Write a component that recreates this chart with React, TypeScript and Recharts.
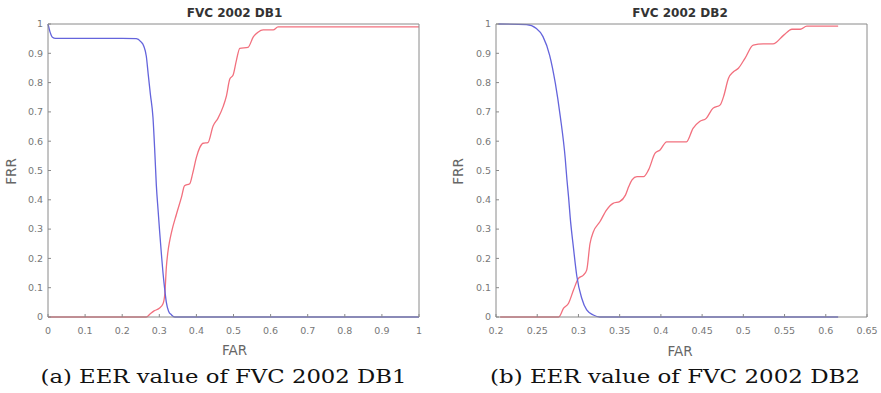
import React from 'react';
import { LineChart, Line, XAxis, YAxis } from 'recharts';

// ---- FVC 2002 DB1 ----
const db1BlueFar = [0, 0.005, 0.012, 0.02, 0.1, 0.2, 0.238, 0.25, 0.258, 0.265, 0.27, 0.276, 0.283, 0.288, 0.292, 0.297, 0.301, 0.306, 0.31, 0.315, 0.319, 0.325, 0.333, 0.342, 1];
const db1BlueFrr = [1, 0.975, 0.955, 0.951, 0.951, 0.951, 0.95, 0.94, 0.925, 0.89, 0.83, 0.76, 0.68, 0.56, 0.45, 0.36, 0.29, 0.21, 0.15, 0.09, 0.05, 0.02, 0.007, 0, 0];
const db1RedFar = [0, 0.265, 0.275, 0.285, 0.3, 0.31, 0.315, 0.319, 0.323, 0.328, 0.333, 0.346, 0.36, 0.368, 0.382, 0.39, 0.4, 0.409, 0.418, 0.431, 0.445, 0.458, 0.472, 0.481, 0.49, 0.499, 0.508, 0.517, 0.539, 0.553, 0.566, 0.58, 0.607, 0.62, 1];
const db1RedFrr = [0, 0, 0.01, 0.02, 0.03, 0.045, 0.08, 0.17, 0.22, 0.26, 0.29, 0.35, 0.41, 0.448, 0.455, 0.49, 0.545, 0.578, 0.593, 0.595, 0.652, 0.678, 0.718, 0.755, 0.812, 0.826, 0.877, 0.917, 0.92, 0.955, 0.972, 0.98, 0.98, 0.99, 0.99];

// ---- FVC 2002 DB2 ----
const db2BlueFar = [0.203, 0.237, 0.249, 0.257, 0.265, 0.272, 0.278, 0.284, 0.286, 0.288, 0.29, 0.294, 0.298, 0.304, 0.31, 0.318, 0.326, 0.615];
const db2BlueFrr = [1, 0.998, 0.985, 0.957, 0.894, 0.797, 0.684, 0.54, 0.47, 0.41, 0.34, 0.235, 0.14, 0.064, 0.024, 0.007, 0, 0];
const db2RedFar = [0.205, 0.276, 0.282, 0.288, 0.294, 0.3, 0.306, 0.31, 0.314, 0.318, 0.326, 0.334, 0.342, 0.35, 0.357, 0.361, 0.365, 0.371, 0.379, 0.385, 0.393, 0.399, 0.407, 0.415, 0.431, 0.439, 0.447, 0.455, 0.463, 0.472, 0.476, 0.482, 0.488, 0.494, 0.502, 0.512, 0.524, 0.536, 0.549, 0.559, 0.569, 0.577, 0.615];
const db2RedFrr = [0, 0, 0.03, 0.047, 0.092, 0.132, 0.143, 0.16, 0.25, 0.29, 0.325, 0.365, 0.388, 0.394, 0.416, 0.445, 0.468, 0.479, 0.479, 0.502, 0.559, 0.57, 0.598, 0.598, 0.598, 0.644, 0.667, 0.678, 0.712, 0.724, 0.752, 0.815, 0.837, 0.849, 0.883, 0.928, 0.932, 0.932, 0.962, 0.982, 0.982, 0.993, 0.993];

// ---- ticks & labels ----
const db1XTicks = [0, 0.1, 0.2, 0.3, 0.4, 0.5, 0.6, 0.7, 0.8, 0.9, 1];
const db2XTicks = [0.2, 0.25, 0.3, 0.35, 0.4, 0.45, 0.5, 0.55, 0.6, 0.65];
const yTicks = [0, 0.1, 0.2, 0.3, 0.4, 0.5, 0.6, 0.7, 0.8, 0.9, 1];
const titles = ['FVC 2002 DB1', 'FVC 2002 DB2'];
const captions = ['(a) EER value of FVC 2002 DB1', '(b) EER value of FVC 2002 DB2'];
const xLabel = 'FAR';
const yLabel = 'FRR';

const zip = (xs: number[], ys: number[]) => xs.map((x, i) => ({ x, y: ys[i] }));

const BLUE = '#6464dc';
const RED = '#f2707e';
const AXIS = '#8a8a8a';
const TICK_TEXT = { fill: '#777', fontSize: 9.5, fontFamily: 'DejaVu Sans' };
const fmt = (v: number) => String(Number(v.toFixed(2)));

const PLOT_TOP = 24;
const PLOT_BOTTOM = 317;

type PanelProps = {
  left: number;
  width: number;
  plotLeft: number;
  plotRight: number;
  xDomain: [number, number];
  xTicks: number[];
  blue: { x: number; y: number }[];
  red: { x: number; y: number }[];
};

function Panel({ left, width, plotLeft, plotRight, xDomain, xTicks, blue, red }: PanelProps) {
  return (
    <div style={{ position: 'absolute', left, top: 0, width, height: 393 }}>
      <LineChart
        width={width}
        height={393}
        margin={{ top: PLOT_TOP, right: width - plotRight, bottom: 393 - PLOT_BOTTOM - 30, left: 0 }}
      >
        <XAxis
          dataKey="x"
          type="number"
          domain={xDomain}
          ticks={xTicks}
          height={30}
          tickSize={-3}
          tickMargin={13}
          tickFormatter={fmt}
          tick={TICK_TEXT}
          stroke={AXIS}
          interval={0}
        />
        <YAxis
          type="number"
          domain={[0, 1]}
          ticks={yTicks}
          width={plotLeft}
          tickSize={-3}
          tickMargin={8}
          tickFormatter={fmt}
          tick={TICK_TEXT}
          stroke={AXIS}
          interval={0}
        />
        <Line data={red} dataKey="y" type="monotone" stroke={RED} strokeWidth={1.3} dot={false} isAnimationActive={false} />
        <Line data={blue} dataKey="y" type="monotone" stroke={BLUE} strokeWidth={1.3} dot={false} isAnimationActive={false} />
      </LineChart>
    </div>
  );
}

const panels = [
  { left: 0, width: 440, plotLeft: 48, plotRight: 419 },
  { left: 440, width: 441, plotLeft: 56, plotRight: 427 },
];

export default function App() {
  return (
    <div style={{ position: 'absolute', left: 0, top: 0, width: 881, height: 393, overflow: 'hidden' }}>
      <Panel
        {...panels[0]}
        xDomain={[0, 1]}
        xTicks={db1XTicks}
        blue={zip(db1BlueFar, db1BlueFrr)}
        red={zip(db1RedFar, db1RedFrr)}
      />
      <Panel
        {...panels[1]}
        xDomain={[0.2, 0.65]}
        xTicks={db2XTicks}
        blue={zip(db2BlueFar, db2BlueFrr)}
        red={zip(db2RedFar, db2RedFrr)}
      />
      <svg width={881} height={393} style={{ position: 'absolute', left: 0, top: 0, pointerEvents: 'none' }}>
        {panels.map((p, i) => (
          <path
            key={i}
            d={`M${p.left + p.plotLeft},${PLOT_TOP} H${p.left + p.plotRight} V${PLOT_BOTTOM}`}
            fill="none"
            stroke={AXIS}
            strokeWidth={1}
          />
        ))}
        <g fontFamily="DejaVu Sans" fontWeight="bold" fontSize={12} fill="#333" textAnchor="middle">
          <text x={234.5} y={16.5}>{titles[0]}</text>
          <text x={680} y={16.5}>{titles[1]}</text>
        </g>
        <g fontFamily="DejaVu Sans" fontSize={13.5} fill="#666" textAnchor="middle">
          <text x={234.5} y={355}>{xLabel}</text>
          <text x={680} y={356}>{xLabel}</text>
          <text transform="translate(16,171.5) rotate(-90)" x={0} y={0}>{yLabel}</text>
          <text transform="translate(463,171.5) rotate(-90)" x={0} y={0}>{yLabel}</text>
        </g>
        <g fontFamily="DejaVu Serif" fontSize={19} fill="#111">
          <text x={40.5} y={382.5} textLength={366} lengthAdjust="spacingAndGlyphs">{captions[0]}</text>
          <text x={490} y={382.5} textLength={370} lengthAdjust="spacingAndGlyphs">{captions[1]}</text>
        </g>
      </svg>
    </div>
  );
}
